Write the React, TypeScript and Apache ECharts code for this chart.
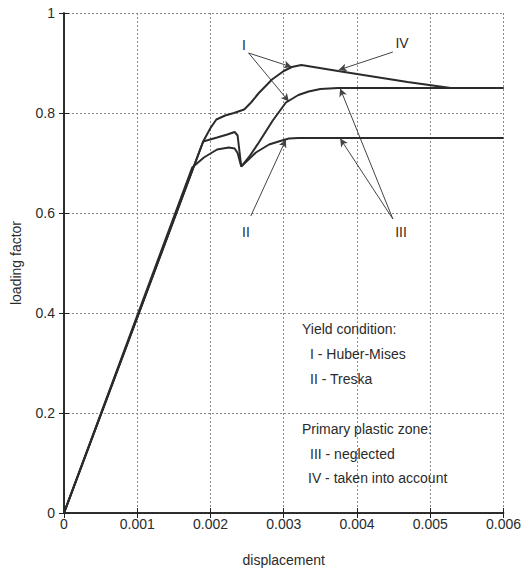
import React, { useEffect, useRef } from "react";
import * as echarts from "echarts";

const xTickLabels = ["0", "0.001", "0.002", "0.003", "0.004", "0.005", "0.006"];
const yTickLabels = ["0", "0.2", "0.4", "0.6", "0.8", "1"];

// Curve I-IV (Huber-Mises, primary plastic zone taken into account)
const topX = [0, 0.0019, 0.002, 0.00208, 0.0022, 0.00232, 0.00246, 0.00256, 0.00266, 0.00284, 0.003, 0.00311, 0.00324, 0.00374, 0.00469, 0.00528, 0.006];
const topY = [0, 0.743, 0.77, 0.787, 0.795, 0.8, 0.807, 0.822, 0.84, 0.867, 0.884, 0.892, 0.896, 0.884, 0.862, 0.85, 0.85];

// Curve I-III (Huber-Mises, primary plastic zone neglected)
const midX = [0, 0.0019, 0.00209, 0.00223, 0.00233, 0.00237, 0.00242, 0.00254, 0.00266, 0.00285, 0.00303, 0.0032, 0.00334, 0.0035, 0.00374, 0.006];
const midY = [0, 0.743, 0.751, 0.757, 0.762, 0.755, 0.693, 0.715, 0.741, 0.785, 0.821, 0.836, 0.843, 0.848, 0.85, 0.85];

// Curve II-III (Treska, primary plastic zone neglected)
const lowX = [0, 0.00175, 0.00191, 0.00209, 0.00225, 0.00233, 0.00237, 0.00242, 0.00262, 0.0028, 0.00293, 0.00307, 0.0032, 0.006];
const lowY = [0, 0.691, 0.711, 0.727, 0.731, 0.729, 0.72, 0.693, 0.721, 0.737, 0.743, 0.749, 0.75, 0.75];

// Annotation labels [x, y, text]
const annLabels: [number, number, string][] = [
  [0.00246, 0.936, "I"],
  [0.00462, 0.94, "IV"],
  [0.00248, 0.562, "II"],
  [0.0046, 0.562, "III"],
];

// Annotation arrows [[x0, y0], [x1, y1]]
const annArrows: [number, number][][] = [
  [[0.00252, 0.92], [0.00311, 0.892]],
  [[0.00252, 0.92], [0.00307, 0.823]],
  [[0.00449, 0.922], [0.00375, 0.886]],
  [[0.00255, 0.594], [0.00303, 0.747]],
  [[0.00449, 0.588], [0.00377, 0.849]],
  [[0.00449, 0.588], [0.00377, 0.749]],
];

const legendLines = [
  { text: "Yield condition:", indent: 0, y: 330 },
  { text: "I - Huber-Mises", indent: 8, y: 355 },
  { text: "II - Treska", indent: 8, y: 380 },
  { text: "Primary plastic zone:", indent: 0, y: 430 },
  { text: "III - neglected", indent: 8, y: 455 },
  { text: "IV - taken into account", indent: 6, y: 479 },
];

const FONT = '"Liberation Sans", Arial, Helvetica, sans-serif';
const INK = "#2b2b2b";

function zip(xs: number[], ys: number[]) {
  return xs.map((x, i) => [x, ys[i]]);
}

export default function App() {
  const ref = useRef<HTMLDivElement>(null);
  useEffect(() => {
    if (!ref.current) return;
    const chart = echarts.init(ref.current, undefined, { renderer: "svg" });
    const curveStyle = { color: INK, width: 2 };
    const option: any = {
      animation: false,
      backgroundColor: "#ffffff",
      color: [INK],
      grid: { left: 64, right: 18, top: 13, bottom: 57, show: false },
      textStyle: { fontFamily: FONT },
      xAxis: [
        {
          type: "value",
          min: 0,
          max: 0.006,
          interval: 0.001,
          name: "displacement",
          nameLocation: "middle",
          nameGap: 40,
          nameTextStyle: { fontFamily: FONT, fontSize: 14, color: INK },
          axisLine: { show: true, lineStyle: { color: "#222", width: 1.5 } },
          axisTick: { show: true, inside: true, length: 5, lineStyle: { color: "#222" } },
          axisLabel: {
            fontFamily: FONT,
            fontSize: 14,
            color: INK,
            margin: 4,
            formatter: (v: number) => xTickLabels[Math.round(v / 0.001)] ?? "",
          },
          splitLine: { show: true, lineStyle: { color: "#8a8a8a", type: [2, 2], width: 1 } },
        },
        {
          type: "value",
          position: "top",
          min: 0,
          max: 0.006,
          interval: 0.001,
          axisLine: { show: true, lineStyle: { color: "#222", width: 1.5 } },
          axisTick: { show: true, inside: true, length: 5, lineStyle: { color: "#222" } },
          axisLabel: { show: false },
          splitLine: { show: false },
        },
      ],
      yAxis: [
        {
          type: "value",
          min: 0,
          max: 1,
          interval: 0.2,
          name: "loading factor",
          nameLocation: "middle",
          nameGap: 41,
          nameTextStyle: { fontFamily: FONT, fontSize: 14, color: INK },
          axisLine: { show: true, lineStyle: { color: "#222", width: 1.5 } },
          axisTick: { show: true, inside: true, length: 5, lineStyle: { color: "#222" } },
          axisLabel: {
            fontFamily: FONT,
            fontSize: 14,
            color: INK,
            margin: 9,
            formatter: (v: number) => yTickLabels[Math.round(v / 0.2)] ?? "",
          },
          splitLine: { show: true, lineStyle: { color: "#8a8a8a", type: [2, 2], width: 1 } },
        },
        {
          type: "value",
          position: "right",
          min: 0,
          max: 1,
          interval: 0.2,
          axisLine: { show: true, lineStyle: { color: "#222", width: 1.5 } },
          axisTick: { show: true, inside: true, length: 5, lineStyle: { color: "#222" } },
          axisLabel: { show: false },
          splitLine: { show: false },
        },
      ],
      series: [
        { type: "line", name: "I-IV", data: zip(topX, topY), showSymbol: false, lineStyle: curveStyle, itemStyle: { color: INK }, z: 5 },
        { type: "line", name: "I-III", data: zip(midX, midY), showSymbol: false, lineStyle: curveStyle, itemStyle: { color: INK }, z: 5 },
        { type: "line", name: "II-III", data: zip(lowX, lowY), showSymbol: false, lineStyle: curveStyle, itemStyle: { color: INK }, z: 5 },
        {
          type: "line",
          name: "arrows",
          data: [],
          silent: true,
          itemStyle: { color: "#444" },
          markLine: {
            silent: true,
            symbol: ["none", "arrow"],
            symbolSize: [6, 8],
            label: { show: false },
            itemStyle: { color: "#444" },
            lineStyle: { color: "#444", width: 1, type: "solid" },
            data: annArrows.map((a) => [{ coord: a[0] }, { coord: a[1] }]),
          },
        },
      ],
    };
    chart.setOption(option);
    const labelGraphics = annLabels.map(([x, y, t]) => {
      const p = chart.convertToPixel({ xAxisIndex: 0, yAxisIndex: 0 }, [x, y]) as number[];
      return {
        type: "text",
        x: Math.round(p[0]),
        y: Math.round(p[1]),
        style: { text: t, font: `14px ${FONT}`, fill: INK, align: "center", verticalAlign: "middle" },
        silent: true,
      };
    });
    const legendGraphics = legendLines.map((l) => ({
      type: "text",
      left: 302 + l.indent,
      top: l.y - 8,
      style: { text: l.text, font: `14px ${FONT}`, fill: INK },
      silent: true,
    }));
    chart.setOption({ graphic: [...labelGraphics, ...legendGraphics] });
    return () => chart.dispose();
  }, []);
  return (
    <div
      ref={ref}
      style={{ position: "fixed", left: 0, top: 0, width: 524, height: 572, background: "#fff" }}
    />
  );
}
